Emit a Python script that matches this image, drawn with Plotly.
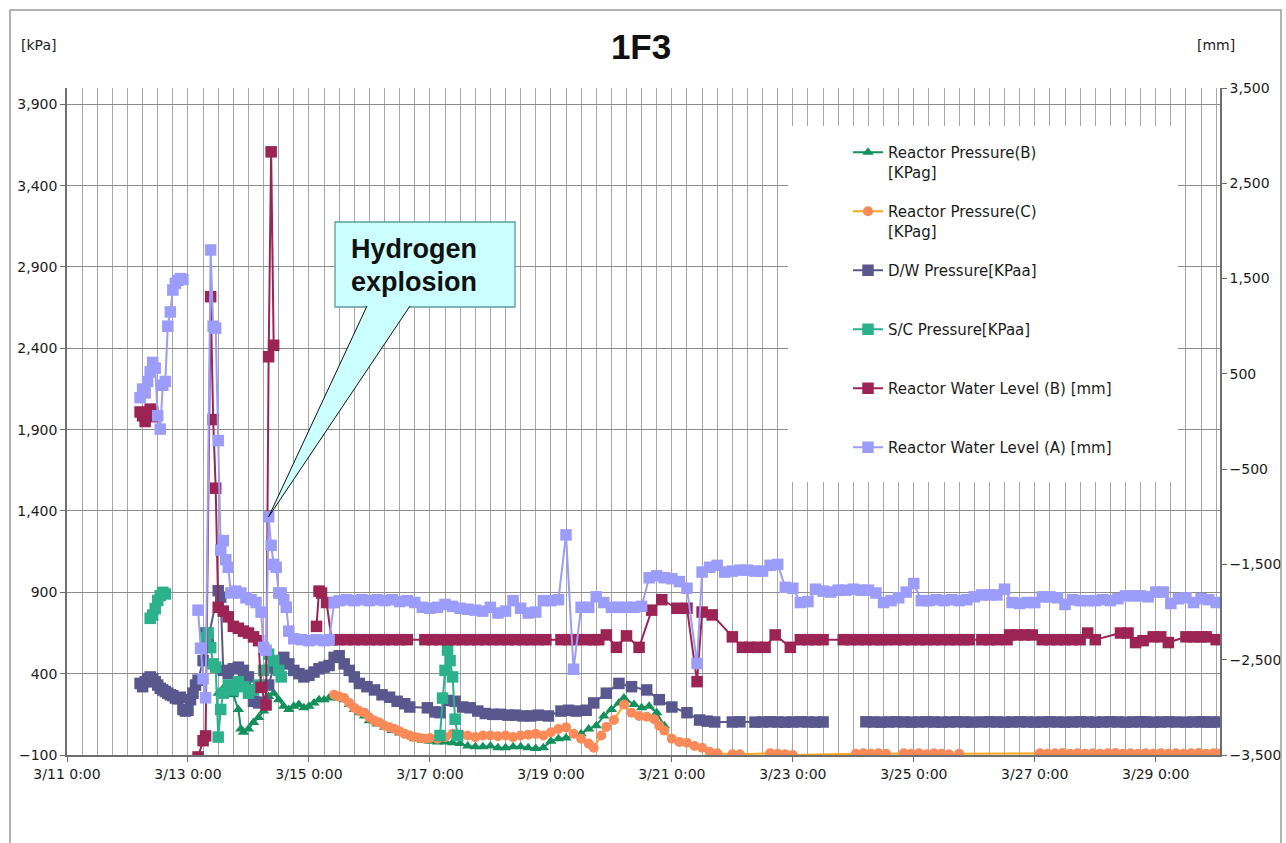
import pandas as pd
import plotly.graph_objects as go

# ---------------- data ----------------
# Reactor Pressure (B) [kPag] - left axis
rpb_time = ["03-13 12:00","03-13 14:00","03-13 16:00","03-13 18:00","03-13 20:00","03-13 21:00","03-13 22:00",
            "03-14 00:00","03-14 02:00","03-14 04:00","03-14 06:00","03-14 08:00","03-14 10:00","03-14 12:00","03-14 14:00","03-14 16:00","03-14 18:00","03-14 20:00","03-14 22:00",
            "03-15 00:00","03-15 02:00","03-15 04:00","03-15 06:00","03-15 08:00","03-15 10:00","03-15 12:00","03-15 14:00","03-15 16:00","03-15 18:00","03-15 20:00","03-15 22:00",
            "03-16 00:00","03-16 03:00","03-16 06:00","03-16 09:00","03-16 12:00","03-16 15:00","03-16 18:00","03-16 21:00",
            "03-17 00:00","03-17 03:00","03-17 06:00","03-17 09:00","03-17 12:00","03-17 15:00","03-17 18:00","03-17 21:00",
            "03-18 00:00","03-18 03:00","03-18 06:00","03-18 09:00","03-18 12:00","03-18 15:00","03-18 18:00","03-18 21:00",
            "03-19 00:00","03-19 03:00","03-19 06:00","03-19 09:00","03-19 12:00","03-19 15:00","03-19 18:00","03-19 21:00",
            "03-20 00:00","03-20 03:00","03-20 05:00","03-20 09:00","03-20 12:00","03-20 15:00","03-20 18:00","03-20 21:00"]
rpb_kpa = [280,310,330,270,180,60,40,
           60,100,130,170,260,280,240,200,180,200,210,190,
           200,220,240,240,250,260,250,240,210,180,160,140,
           110,90,70,50,35,20,0,-10,
           -15,-20,-20,-25,-30,-45,-50,-50,
           -45,-55,-55,-50,-50,-55,-60,-55,
           -15,0,5,20,30,60,80,140,
           180,220,250,210,190,200,160,80]

# Reactor Pressure (C) [kPag] - left axis
rpc_time = ["03-15 10:00","03-15 12:00","03-15 14:00","03-15 16:00","03-15 18:00","03-15 20:00","03-15 22:00",
            "03-16 00:00","03-16 02:00","03-16 04:00","03-16 06:00","03-16 08:00","03-16 10:00","03-16 12:00","03-16 14:00","03-16 16:00","03-16 18:00","03-16 20:00","03-16 22:00",
            "03-17 00:00","03-17 03:00","03-17 06:00","03-17 09:00","03-17 12:00","03-17 15:00","03-17 18:00","03-17 21:00",
            "03-18 00:00","03-18 03:00","03-18 06:00","03-18 09:00","03-18 12:00","03-18 15:00","03-18 18:00","03-18 21:00",
            "03-19 00:00","03-19 03:00","03-19 06:00","03-19 09:00","03-19 12:00","03-19 15:00","03-19 17:00","03-19 20:00","03-19 22:00",
            "03-20 01:00","03-20 05:00","03-20 08:00","03-20 11:00","03-20 14:00","03-20 17:00","03-20 19:00","03-20 21:00",
            "03-21 00:00","03-21 03:00","03-21 06:00","03-21 09:00","03-21 12:00","03-21 15:00","03-21 18:00",
            "03-22 00:00","03-22 03:00","03-22 15:00","03-22 18:00","03-22 21:00",
            "03-23 00:00",
            "03-24 01:00","03-24 04:00","03-24 07:00","03-24 10:00","03-24 13:00","03-24 20:00","03-24 23:00",
            "03-25 02:00","03-25 05:00","03-25 08:00","03-25 11:00","03-25 14:00","03-25 18:00",
            "03-27 02:00","03-27 05:00","03-27 08:00","03-27 11:00","03-27 14:00","03-27 17:00","03-27 20:00","03-27 23:00",
            "03-28 02:00","03-28 05:00","03-28 08:00","03-28 11:00","03-28 14:00","03-28 17:00","03-28 20:00","03-28 23:00",
            "03-29 02:00","03-29 05:00","03-29 08:00","03-29 11:00","03-29 14:00","03-29 17:00","03-29 20:00","03-29 23:00",
            "03-30 01:00"]
rpc_kpa = [270,260,250,220,190,170,160,
           130,110,100,80,70,60,45,30,20,10,5,0,
           5,0,10,30,25,20,10,20,
           20,15,20,10,20,25,30,20,
           40,60,70,30,0,-30,-55,20,72,
           115,210,160,140,135,120,80,50,
           0,-20,-25,-45,-55,-80,-90,
           -95,-95,-90,-92,-95,
           -100,
           -92,-90,-92,-90,-92,-90,-92,
           -90,-95,-90,-92,-95,-92,
           -90,-92,-90,-88,-92,-90,-92,-90,
           -92,-90,-88,-92,-90,-92,-90,-92,
           -90,-92,-90,-92,-90,-88,-92,-90,
           -92]

# D/W Pressure [kPaa] - left axis
dw_time = ["03-12 05:00","03-12 06:00","03-12 07:00","03-12 08:00","03-12 09:00","03-12 10:00","03-12 11:00","03-12 12:00","03-12 13:00","03-12 14:00",
           "03-12 15:00","03-12 16:00","03-12 17:00","03-12 18:00","03-12 19:00","03-12 20:00","03-12 21:00","03-12 22:00","03-12 23:00",
           "03-13 00:00","03-13 01:00","03-13 02:00","03-13 03:00","03-13 04:00","03-13 06:00","03-13 07:00","03-13 08:00","03-13 12:00","03-13 13:00",
           "03-13 14:00","03-13 16:00","03-13 18:00","03-13 20:00","03-13 22:00",
           "03-14 00:00","03-14 01:00","03-14 02:00","03-14 04:00","03-14 06:00","03-14 08:00","03-14 10:00","03-14 12:00","03-14 14:00","03-14 16:00","03-14 18:00","03-14 20:00","03-14 22:00",
           "03-15 00:00","03-15 02:00","03-15 04:00","03-15 06:00","03-15 08:00","03-15 10:00","03-15 12:00","03-15 14:00","03-15 16:00","03-15 18:00","03-15 20:00","03-15 23:00",
           "03-16 02:00","03-16 05:00","03-16 08:00","03-16 11:00","03-16 14:00","03-16 16:00","03-16 23:00",
           "03-17 02:00","03-17 04:00","03-17 07:00","03-17 10:00","03-17 13:00","03-17 16:00","03-17 19:00","03-17 22:00",
           "03-18 01:00","03-18 04:00","03-18 07:00","03-18 10:00","03-18 13:00","03-18 16:00","03-18 19:00","03-18 23:00",
           "03-19 04:00","03-19 07:00","03-19 10:00","03-19 14:00","03-19 17:00","03-19 22:00",
           "03-20 03:00","03-20 08:00","03-20 14:00","03-20 19:00",
           "03-21 00:00","03-21 06:00","03-21 11:00","03-21 14:00","03-21 17:00",
           "03-22 00:00","03-22 03:00","03-22 09:00","03-22 12:00","03-22 15:00","03-22 18:00","03-22 21:00",
           "03-23 00:00","03-23 03:00","03-23 06:00","03-23 09:00","03-23 12:00","03-23 13:00",
           "03-24 05:00","03-24 08:00","03-24 11:00","03-24 14:00","03-24 17:00","03-24 20:00","03-24 23:00",
           "03-25 02:00","03-25 05:00","03-25 08:00","03-25 11:00","03-25 14:00","03-25 17:00","03-25 20:00","03-25 23:00",
           "03-26 03:00","03-26 06:00","03-26 09:00","03-26 12:00","03-26 15:00","03-26 18:00","03-26 21:00",
           "03-27 00:00","03-27 03:00","03-27 06:00","03-27 09:00","03-27 12:00","03-27 15:00","03-27 18:00","03-27 21:00",
           "03-28 00:00","03-28 03:00","03-28 06:00","03-28 09:00","03-28 12:00","03-28 15:00","03-28 18:00","03-28 20:00","03-28 23:00",
           "03-29 02:00","03-29 05:00","03-29 08:00","03-29 12:00","03-29 15:00","03-29 18:00","03-29 20:00","03-29 22:00",
           "03-30 01:00"]
dw_kpa = [340,320,350,370,380,370,350,330,310,300,
          290,280,270,265,250,245,255,180,170,
          175,240,280,330,360,480,650,610,910,870,
          420,400,430,440,420,
          380,300,230,220,225,330,440,480,500,460,420,400,380,
          390,410,430,440,450,500,510,460,420,380,340,320,
          300,270,255,230,215,195,190,
          165,160,235,230,195,190,170,155,
          150,150,145,145,140,140,145,140,
          170,175,170,175,220,280,
          340,320,300,240,
          195,160,115,108,103,
          103,104,102,103,104,103,102,
          103,104,103,102,103,None,
          104,103,102,103,104,103,102,
          103,104,103,102,103,104,103,102,
          103,104,103,102,103,104,103,
          102,103,104,103,102,103,104,103,
          102,103,104,103,102,103,104,103,102,
          103,104,103,102,103,104,103,102,
          103]

# S/C Pressure [kPaa] - left axis
sc_time = ["03-12 09:00","03-12 10:00","03-12 11:00","03-12 12:00","03-12 13:00","03-12 14:00","03-12 15:00","03-12 16:00",
           "03-13 07:00","03-13 08:00","03-13 09:00","03-13 10:00","03-13 11:00","03-13 12:00","03-13 13:00","03-13 14:00","03-13 16:00","03-13 18:00","03-13 20:00","03-13 22:00",
           "03-14 00:00","03-14 02:00","03-14 04:00","03-14 06:00","03-14 08:00","03-14 10:00","03-14 12:00","03-14 13:00","03-14 14:00",
           "03-17 04:00","03-17 05:00","03-17 06:00","03-17 07:00","03-17 08:00","03-17 09:00","03-17 10:00","03-17 11:00"]
sc_kpa = [740,760,800,850,880,900,890,None,
          620,650,560,460,440,10,180,280,330,300,350,320,
          280,300,330,420,520,480,420,380,None,
          20,250,420,545,480,380,120,20]

# Reactor Water Level (B) [mm] - right axis
lvb_time = ["03-12 05:00","03-12 06:00","03-12 07:00","03-12 08:00","03-12 09:00","03-12 10:00","03-12 11:00","03-12 12:00",
            "03-13 04:00","03-13 06:00","03-13 07:00","03-13 09:00","03-13 10:00","03-13 11:00","03-13 12:00","03-13 14:00","03-13 16:00","03-13 18:00","03-13 20:00","03-13 22:00",
            "03-14 00:00","03-14 02:00","03-14 04:00","03-14 05:00","03-14 07:00","03-14 08:00","03-14 09:00","03-14 10:00","03-14 11:00",
            "03-15 03:00","03-15 04:00","03-15 05:00","03-15 07:00","03-15 09:00","03-15 12:00","03-15 15:00","03-15 18:00","03-15 21:00",
            "03-16 00:00","03-16 03:00","03-16 06:00","03-16 09:00","03-16 12:00","03-16 15:00","03-16 22:00",
            "03-17 01:00","03-17 04:00","03-17 07:00","03-17 10:00","03-17 13:00","03-17 16:00","03-17 19:00","03-17 22:00",
            "03-18 01:00","03-18 04:00","03-18 07:00","03-18 10:00","03-18 13:00","03-18 16:00","03-18 19:00","03-18 22:00",
            "03-19 04:00","03-19 07:00","03-19 10:00","03-19 14:00","03-19 17:00","03-19 19:00","03-19 22:00",
            "03-20 02:00","03-20 06:00","03-20 11:00","03-20 16:00","03-20 20:00",
            "03-21 02:00","03-21 06:00","03-21 10:00","03-21 12:00","03-21 16:00",
            "03-22 00:00","03-22 04:00","03-22 07:00","03-22 10:00","03-22 13:00","03-22 17:00","03-22 23:00",
            "03-23 03:00","03-23 06:00","03-23 09:00","03-23 12:00","03-23 20:00","03-23 23:00",
            "03-24 02:00","03-24 05:00","03-24 08:00","03-24 11:00","03-24 13:00","03-24 17:00","03-24 20:00","03-24 23:00",
            "03-25 02:00","03-25 05:00","03-25 08:00","03-25 11:00","03-25 14:00","03-25 17:00","03-25 20:00","03-25 22:00",
            "03-26 03:00","03-26 06:00","03-26 09:00","03-26 13:00","03-26 14:00","03-26 17:00","03-26 20:00","03-26 23:00",
            "03-27 03:00","03-27 06:00","03-27 09:00","03-27 12:00","03-27 15:00","03-27 18:00","03-27 21:00",
            "03-28 00:00","03-28 10:00","03-28 13:00","03-28 16:00","03-28 19:00","03-28 23:00",
            "03-29 02:00","03-29 05:00","03-29 12:00","03-29 15:00","03-29 18:00","03-29 20:00",
            "03-30 00:00"]
lvb_mm = [100,60,0,80,130,100,50,None,
          -3520,-3350,-3300,1310,20,-700,-1950,-1990,-2050,-2150,-2170,-2200,
          -2220,-2260,-2300,-2790,-2975,680,2830,800,None,
          -2150,-1780,-1800,-1900,-2290,-2290,-2290,-2290,-2290,
          -2290,-2290,-2290,-2290,-2290,-2290,-2290,
          -2290,-2290,-2290,-2290,-2290,-2290,-2290,-2290,
          -2290,-2290,-2290,-2290,-2290,-2290,-2290,-2290,
          -2290,-2290,-2290,-2290,-2290,-2290,-2240,
          -2370,-2250,-2370,-1980,-1870,
          -1960,-1960,-2730,-2000,-2030,
          -2260,-2370,-2370,-2370,-2370,-2240,-2370,
          -2290,-2290,-2290,-2290,-2290,-2290,
          -2290,-2290,-2290,-2290,-2290,-2290,-2290,-2290,
          -2290,-2290,-2290,-2290,-2290,-2290,-2290,-2290,
          -2290,-2290,-2290,-2290,-2240,-2240,-2240,-2240,
          -2290,-2290,-2290,-2290,-2290,-2290,-2220,
          -2290,-2220,-2220,-2320,-2300,-2260,
          -2260,-2320,-2260,-2260,-2260,-2260,
          -2290]

# Reactor Water Level (A) [mm] - right axis
lva_time = ["03-12 05:00","03-12 06:00","03-12 07:00","03-12 08:00","03-12 09:00","03-12 10:00","03-12 11:00","03-12 12:00","03-12 13:00","03-12 14:00",
            "03-12 15:00","03-12 16:00","03-12 17:00","03-12 18:00","03-12 19:00","03-12 20:00","03-12 21:00","03-12 22:00","03-12 23:00",
            "03-13 04:00","03-13 05:00","03-13 06:00","03-13 07:00","03-13 09:00","03-13 10:00","03-13 11:00","03-13 12:00","03-13 13:00","03-13 14:00",
            "03-13 15:00","03-13 16:00","03-13 17:00","03-13 19:00","03-13 21:00","03-13 23:00",
            "03-14 01:00","03-14 03:00","03-14 05:00","03-14 06:00","03-14 07:00","03-14 08:00","03-14 09:00","03-14 10:00","03-14 11:00","03-14 12:00",
            "03-14 13:00","03-14 14:00","03-14 15:00","03-14 16:00","03-14 18:00","03-14 21:00",
            "03-15 00:00","03-15 03:00","03-15 06:00","03-15 08:00","03-15 10:00","03-15 12:00","03-15 15:00","03-15 18:00","03-15 21:00",
            "03-16 00:00","03-16 03:00","03-16 06:00","03-16 09:00","03-16 12:00","03-16 15:00","03-16 18:00","03-16 21:00",
            "03-17 00:00","03-17 03:00","03-17 06:00","03-17 09:00","03-17 12:00","03-17 15:00","03-17 18:00","03-17 21:00",
            "03-18 00:00","03-18 03:00","03-18 06:00","03-18 09:00","03-18 12:00","03-18 15:00","03-18 18:00","03-18 21:00",
            "03-19 00:00","03-19 03:00","03-19 06:00","03-19 09:00","03-19 12:00","03-19 15:00","03-19 18:00","03-19 21:00",
            "03-20 00:00","03-20 03:00","03-20 06:00","03-20 09:00","03-20 12:00","03-20 15:00","03-20 18:00","03-20 21:00",
            "03-21 00:00","03-21 03:00","03-21 06:00","03-21 10:00","03-21 12:00","03-21 15:00","03-21 18:00","03-21 21:00",
            "03-22 00:00","03-22 03:00","03-22 06:00","03-22 09:00","03-22 12:00","03-22 15:00","03-22 18:00","03-22 21:00",
            "03-23 00:00","03-23 03:00","03-23 06:00","03-23 09:00","03-23 12:00","03-23 15:00","03-23 18:00","03-23 21:00",
            "03-24 00:00","03-24 03:00","03-24 06:00","03-24 09:00","03-24 12:00","03-24 15:00","03-24 18:00","03-24 21:00",
            "03-25 00:00","03-25 03:00","03-25 06:00","03-25 09:00","03-25 12:00","03-25 15:00","03-25 18:00","03-25 21:00",
            "03-26 00:00","03-26 03:00","03-26 06:00","03-26 09:00","03-26 12:00","03-26 15:00","03-26 18:00","03-26 21:00",
            "03-27 00:00","03-27 03:00","03-27 06:00","03-27 09:00","03-27 12:00","03-27 15:00","03-27 18:00","03-27 21:00",
            "03-28 00:00","03-28 03:00","03-28 06:00","03-28 09:00","03-28 12:00","03-28 15:00","03-28 18:00","03-28 21:00",
            "03-29 00:00","03-29 03:00","03-29 06:00","03-29 09:00","03-29 12:00","03-29 15:00","03-29 18:00","03-29 21:00",
            "03-30 00:00"]
lva_mm = [250,340,300,420,520,620,560,60,-80,380,
          420,1000,1150,1380,1450,1480,1500,1490,None,
          -1980,-2380,-2700,-2900,1800,1000,980,-200,-1350,-1250,
          -1450,-1530,-1800,-1780,-1800,-1850,
          -1870,-1900,-2000,-2370,-2400,-1000,-1300,-1500,-1530,-1800,
          -1800,-1870,-1950,-2200,-2280,-2290,
          -2300,-2290,-2300,-2290,-1900,-1880,-1870,-1880,-1870,
          -1880,-1870,-1880,-1870,-1890,-1880,-1900,-1950,
          -1960,-1950,-1920,-1940,-1960,-1970,-1980,-1990,
          -1950,-2010,-1990,-1880,-1960,-2010,-2000,-1880,
          -1880,-1870,-1190,-2600,-1950,-1950,-1840,-1900,
          -1950,-1950,-1950,-1950,-1940,-1640,-1620,-1640,
          -1650,-1680,-1750,-2540,-1580,-1530,-1510,-1580,
          -1570,-1560,-1560,-1570,-1570,-1510,-1500,-1740,
          -1750,-1900,-1890,-1760,-1780,-1790,-1770,-1770,
          -1760,-1770,-1770,-1800,-1900,-1880,-1850,-1790,
          -1700,-1880,-1880,-1870,-1880,-1870,-1880,-1870,
          -1840,-1820,-1820,-1820,-1760,-1900,-1910,-1900,
          -1900,-1840,-1840,-1850,-1920,-1870,-1880,-1880,
          -1880,-1870,-1880,-1860,-1830,-1830,-1830,-1840,
          -1790,-1790,-1910,-1860,-1850,-1900,-1860,-1870,
          -1900]

x_ticks_start = "2011-03-11 00:00"
x_range_end = "2011-03-30 01:30"
left_range = [-100, 4000]
right_range = [-3500, 3500]

# ---------------- helpers ----------------
def to_dt(lst):
    return pd.to_datetime(["2011-" + s for s in lst])

for t, v in [(rpb_time, rpb_kpa), (rpc_time, rpc_kpa), (dw_time, dw_kpa), (sc_time, sc_kpa),
             (lvb_time, lvb_mm), (lva_time, lva_mm)]:
    assert len(t) == len(v), (len(t), len(v), t[0])

W, H = 1286, 843
ML, MR, MT, MB = 67, 66, 88, 88
PW, PH = W - ML - MR, H - MT - MB


def px(x):
    return (x - ML) / PW


def py(y):
    return (H - MB - y) / PH


FONT = "DejaVu Sans"
fig = go.Figure()

series = [
    ("Reactor Pressure(B)<br>[KPag]", rpb_time, rpb_kpa, "y", "#13905c", "#13905c", "triangle-up", 10),
    ("Reactor Pressure(C)<br>[KPag]", rpc_time, rpc_kpa, "y", "#ffa31a", "#fb8a58", "circle", 10),
    ("D/W Pressure[KPaa]<br>\u00a0", dw_time, dw_kpa, "y", "#58588f", "#58588f", "square", 11.5),
    ("S/C Pressure[KPaa]<br>\u00a0", sc_time, sc_kpa, "y", "#2bb28c", "#2bb28c", "square", 11.5),
    ("Reactor Water Level (B) [mm]<br>\u00a0", lvb_time, lvb_mm, "y2", "#9c2454", "#9c2454", "square", 11.5),
    ("Reactor Water Level (A) [mm]<br>\u00a0", lva_time, lva_mm, "y2", "#9c9cfa", "#9c9cfa", "square", 11.5),
]
for i, (name, t, v, yax, lc, mc, sym, ms) in enumerate(series):
    fig.add_trace(go.Scatter(
        x=to_dt(t), y=v, name=name, yaxis=yax, mode="lines+markers",
        line=dict(color=lc, width=2),
        marker=dict(color=mc, symbol=sym, size=ms, line=dict(width=0)),
        legendgroup=f"g{i}",
    ))

# explosion tip from the data: level (A) peak on 3/14
t0 = pd.Timestamp(x_ticks_start)
t1 = pd.Timestamp(x_range_end)
lva_dt = to_dt(lva_time)
cands = [(v, tt) for tt, v in zip(lva_dt, lva_mm)
         if v is not None and pd.Timestamp("2011-03-14") <= tt < pd.Timestamp("2011-03-15")]
tip_v, tip_t = max(cands)
tip_x = (tip_t - t0) / (t1 - t0)
tip_y = (tip_v - right_range[0]) / (right_range[1] - right_range[0])

grid = "#a8a8a8"
axis_line = "#6e6e6e"
tickfont = dict(family=FONT, size=14, color="#1c1c1c")

fig.update_layout(
    width=W, height=H,
    margin=dict(l=ML, r=MR, t=MT, b=MB, autoexpand=False),
    paper_bgcolor="white", plot_bgcolor="white",
    title=dict(text="<b>1F3</b>", x=0.4985, xanchor="center", y=1 - 47 / H, yanchor="middle",
               font=dict(family="Liberation Sans", size=35, color="#111")),
    xaxis=dict(type="date", range=[t0, t1], tick0=x_ticks_start, dtick=2 * 86400000,
               tickformat="%-m/%-d %-H:%M", tickfont=tickfont,
               showgrid=True, gridcolor=grid, gridwidth=1,
               minor=dict(dtick=6 * 3600000, tick0=x_ticks_start, showgrid=True, gridcolor=grid, gridwidth=1),
               showline=True, linecolor=axis_line, linewidth=1.5,
               ticks="outside", ticklen=5, tickcolor=axis_line, zeroline=False),
    yaxis=dict(range=left_range, tick0=-100, dtick=500, tickformat=",", tickfont=tickfont,
               showgrid=True, gridcolor="#8c8c8c", gridwidth=1.2,
               showline=True, linecolor=axis_line, linewidth=1.5,
               ticks="outside", ticklen=5, tickcolor=axis_line, zeroline=False),
    yaxis2=dict(range=right_range, tick0=-3500, dtick=1000, tickformat=",", tickfont=tickfont,
                overlaying="y", side="right", showgrid=False,
                showline=True, linecolor=axis_line, linewidth=1.5,
                ticks="outside", ticklen=5, tickcolor=axis_line, zeroline=False),
    legend=dict(x=px(848), y=py(136), xanchor="left", yanchor="top",
                bgcolor="rgba(0,0,0,0)", borderwidth=0,
                font=dict(family=FONT, size=15, color="#1c1c1c"),
                traceorder="grouped", tracegroupgap=17, valign="top"),
    showlegend=True,
)

shapes = [
    # outer chart border
    dict(type="rect", xref="paper", yref="paper", x0=px(10), x1=px(1281), y0=py(852), y1=py(10),
         line=dict(color="#9a9a9a", width=1.5), fillcolor="rgba(0,0,0,0)", layer="above"),
    # legend background
    dict(type="rect", xref="paper", yref="paper", x0=px(788), x1=px(1178), y0=py(482), y1=py(126),
         line=dict(width=0), fillcolor="white", layer="above"),
    # callout box
    dict(type="rect", xref="paper", yref="paper", x0=px(335), x1=px(515), y0=py(307), y1=py(222),
         line=dict(color="#5c9c9c", width=1.3), fillcolor="#ccffff", layer="above"),
    # callout tail
    dict(type="path", xref="paper", yref="paper",
         path=f"M {px(367)} {py(306)} L {tip_x} {tip_y} L {px(410)} {py(306)}",
         line=dict(color="#111", width=1), fillcolor="#ccffff", layer="above"),
]
fig.update_layout(shapes=shapes)

annos = [
    dict(text="[kPa]", x=px(38), y=py(45)),
    dict(text="[mm]", x=px(1216), y=py(45)),
]
for a in annos:
    fig.add_annotation(xref="paper", yref="paper", xanchor="center", yanchor="middle", showarrow=False,
                       font=dict(family=FONT, size=14, color="#222"), **a)
for txt, yy in [("Hydrogen", 249), ("explosion", 282)]:
    fig.add_annotation(xref="paper", yref="paper", x=px(349), y=py(yy), xanchor="left", yanchor="middle",
                       showarrow=False, text=f"<b>{txt}</b>",
                       font=dict(family="Liberation Sans", size=27, color="#111"))

fig.write_html("out.html", config={"displayModeBar": False},
               post_script="document.body.style.margin='0';")
